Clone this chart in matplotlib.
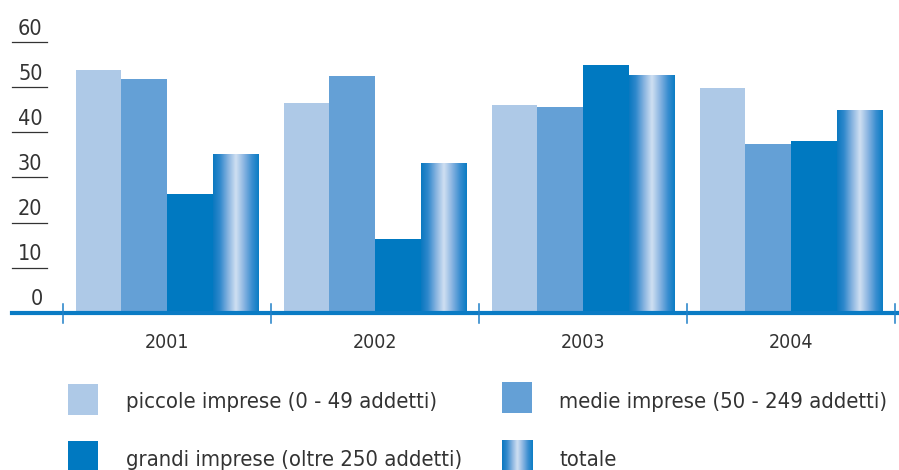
import numpy as np
import matplotlib
matplotlib.use("Agg")
import matplotlib.pyplot as plt
from matplotlib.colors import LinearSegmentedColormap
from matplotlib.patches import Rectangle
from matplotlib.transforms import blended_transform_factory

plt.rcParams['font.family'] = ['DejaVu Sans']
plt.rcParams['font.stretch'] = 'condensed'

years = ['2001', '2002', '2003', '2004']
piccole = [53.9, 46.6, 46.1, 49.9]
medie = [51.9, 52.6, 45.7, 37.4]
grandi = [26.4, 16.3, 55.0, 38.1]
totale = [35.0, 33.0, 52.6, 44.8]
yticks = [0, 10, 20, 30, 40, 50, 60]

labels = ['piccole imprese (0 - 49 addetti)', 'medie imprese (50 - 249 addetti)',
          'grandi imprese (oltre 250 addetti)', 'totale']

c_piccole = '#aec9e7'
c_medie = '#64a0d6'
c_grandi = '#0079c1'
c_base = '#0a7bc4'
c_text = '#333333'

# cylinder-like shading for the "totale" bars
tot_cmap = LinearSegmentedColormap.from_list('tot', [
    (0.00, '#0a78c0'), (0.15, '#2f88cc'), (0.33, '#88b4e0'), (0.50, '#d0e0f2'),
    (0.67, '#8cb6e2'), (0.85, '#3a8ed0'), (1.00, '#0a7cc4')])
grad = np.linspace(0, 1, 256).reshape(1, -1)

W, H = 899, 470
fig = plt.figure(figsize=(W / 100, H / 100), dpi=100)
ax = fig.add_axes([12 / W, (H - 312.5) / H, 1 - 12 / W, 270 / H])
ax.axis('off')

x = np.arange(len(years))
bw = 0.219
ax.bar(x - 1.5 * bw, piccole, bw, color=c_piccole, linewidth=0)
ax.bar(x - 0.5 * bw, medie, bw, color=c_medie, linewidth=0)
ax.bar(x + 0.5 * bw, grandi, bw, color=c_grandi, linewidth=0)
tb = ax.bar(x + 1.5 * bw, totale, bw, color='none', linewidth=0)
for r in tb:
    x0, w, h = r.get_x(), r.get_width(), r.get_height()
    ax.imshow(grad, cmap=tot_cmap, extent=[x0, x0 + w, 0, h],
              aspect='auto', interpolation='bicubic', zorder=2)
ax.set_xlim(-0.745, 3.519)
ax.set_ylim(0, 60)

# baseline and group separators
ax.axhline(0, color=c_base, lw=3.0, clip_on=False, zorder=3)
ppu = 4.5  # pixels per unit on the value axis
for s in np.arange(len(years) + 1) - 0.5:
    ax.plot([s, s], [-10 / ppu, 9 / ppu], color='#1f80c8', lw=1.1,
            clip_on=False, zorder=4)

# year labels
for xi, yr in zip(x, years):
    ax.text(xi, -36 / ppu, yr, ha='center', va='baseline', fontsize=14,
            color=c_text, clip_on=False)

# value axis labels with underlines
tr = blended_transform_factory(fig.transFigure, ax.transData)
for v in yticks:
    if v > 0:
        ax.plot([12 / W, 47 / W], [v, v], color=c_text, lw=0.9,
                transform=tr, clip_on=False)
    ax.text(42.5 / W, v + 7.5 / ppu, str(v), ha='right', va='baseline',
            fontsize=15.5, color=c_text, transform=tr, clip_on=False)

# legend
lg = fig.add_axes([0, 0, 1, 1], zorder=5)
lg.axis('off')
lg.patch.set_alpha(0)
lg.add_patch(Rectangle((67.5, 384), 30, 30.5, color=c_piccole, lw=0))
lg.add_patch(Rectangle((501.5, 382), 30.5, 30.5, color=c_medie, lw=0))
lg.add_patch(Rectangle((67.5, 441), 30, 30, color=c_grandi, lw=0))
lg.imshow(grad, cmap=tot_cmap, extent=[502, 532.5, 471, 440],
          aspect='auto', interpolation='bicubic')
lg.set_xlim(0, W)
lg.set_ylim(H, 0)
for tx, ty, t in [(125.5, 408.3, labels[0]), (559, 408.3, labels[1]),
                  (125.5, 466.3, labels[2]), (559, 466.5, labels[3])]:
    lg.text(tx, ty, t, ha='left', va='baseline', fontsize=15.8, color=c_text)

fig.savefig('out.png', dpi=100)
